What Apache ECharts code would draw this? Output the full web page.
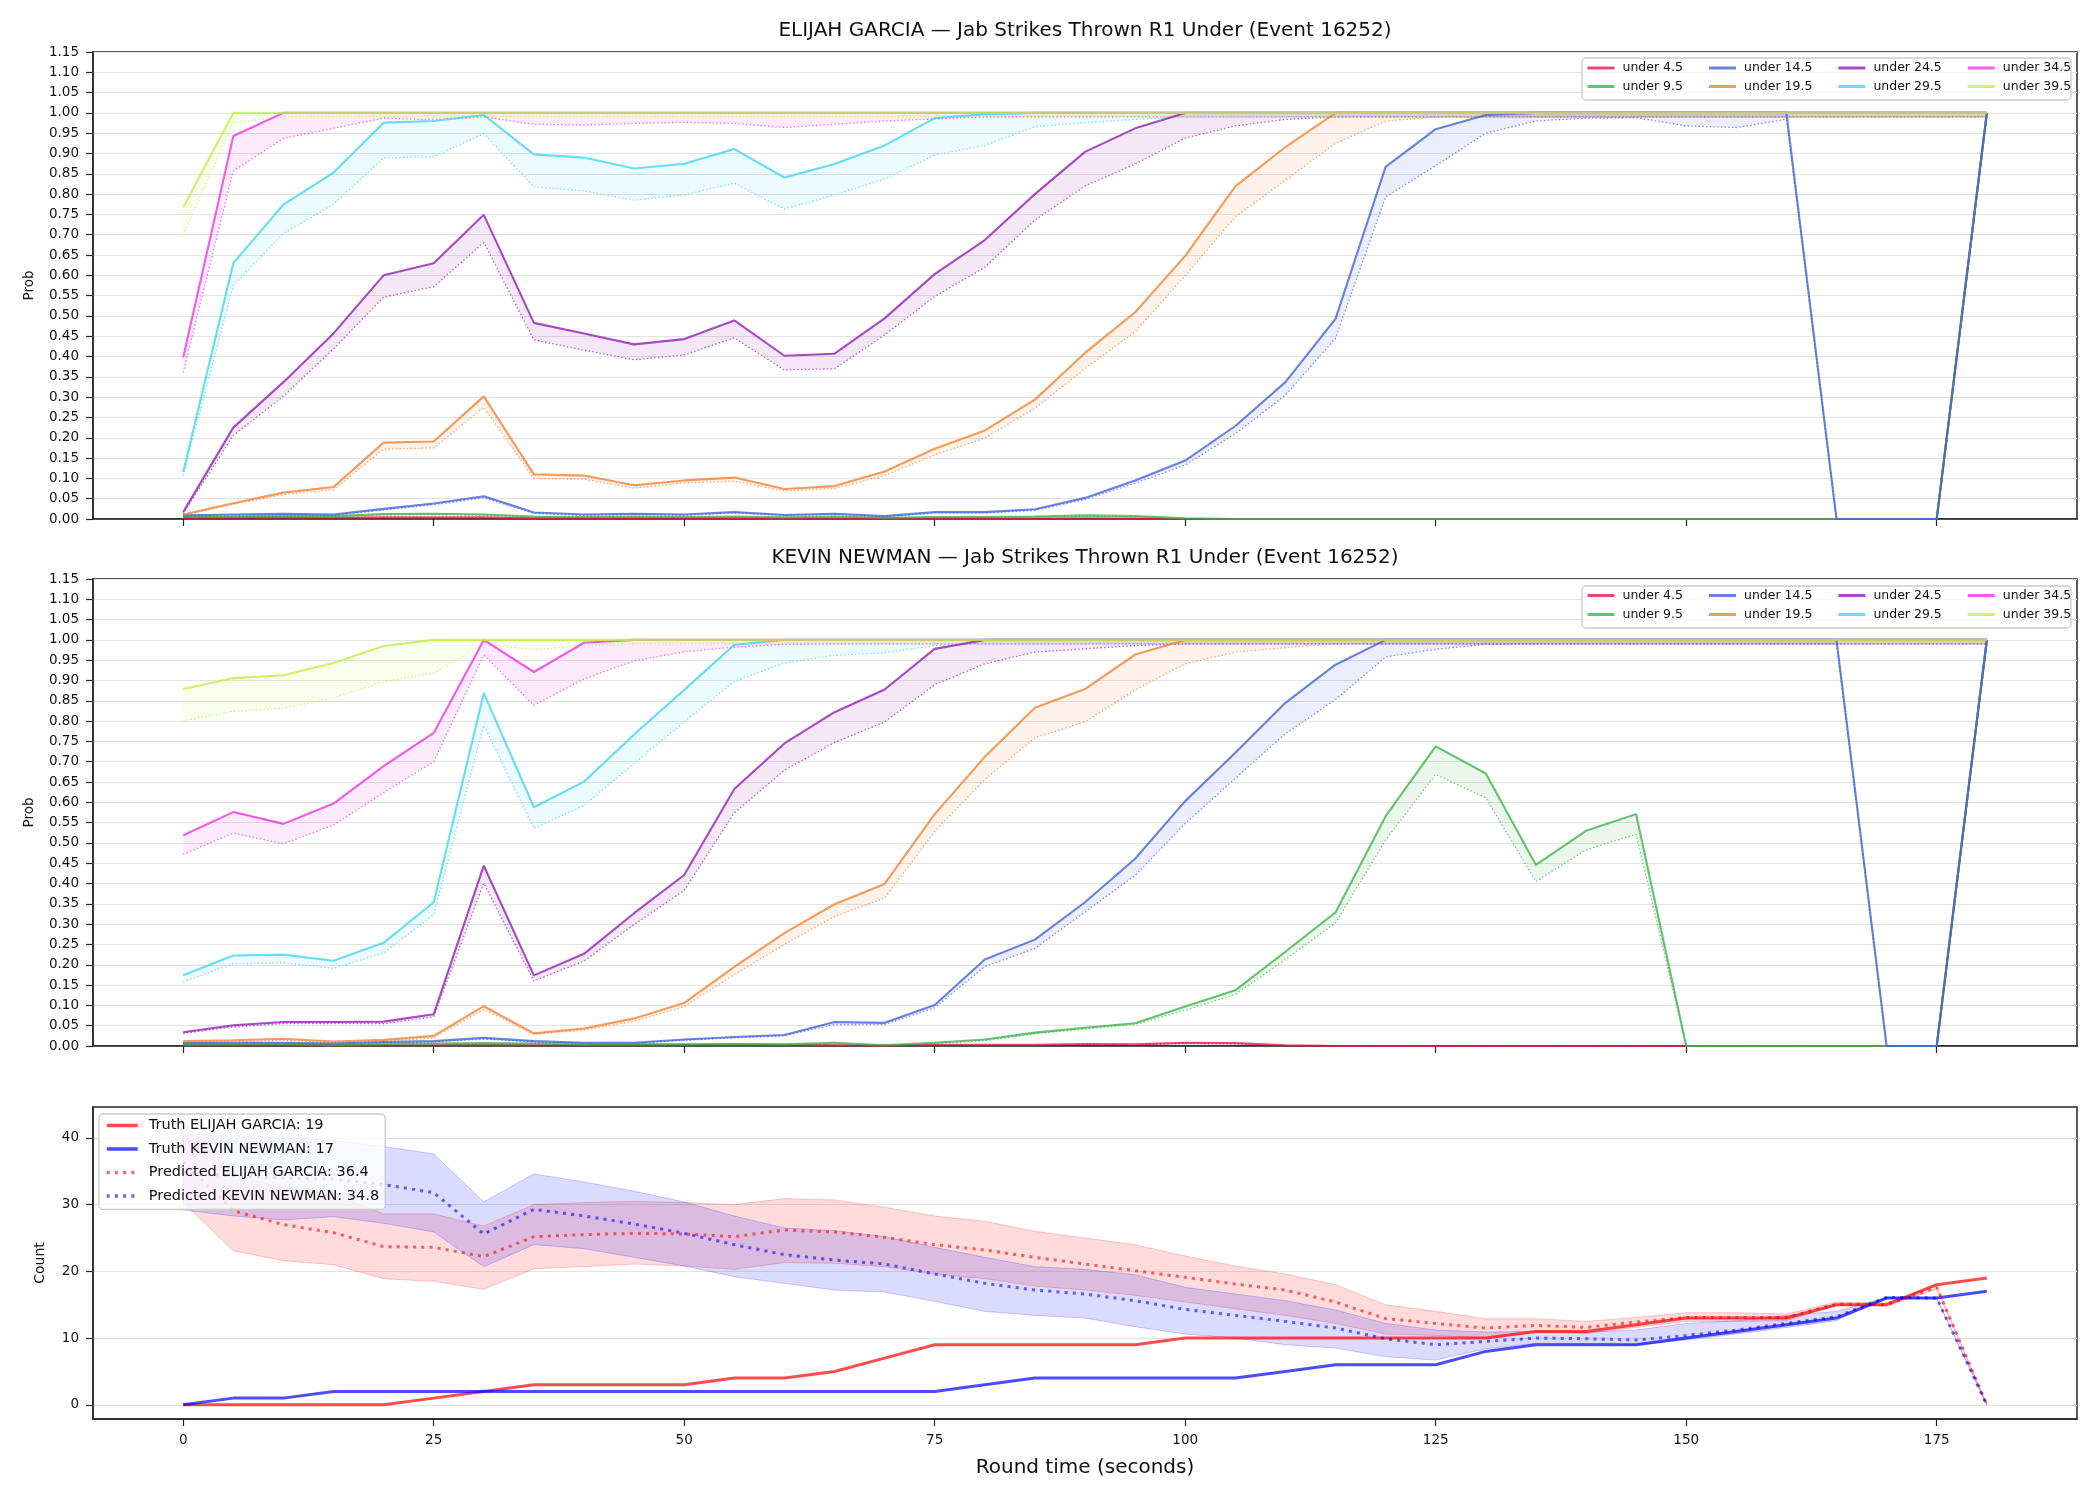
<!DOCTYPE html>
<html>
<head>
<meta charset="utf-8">
<title>Jab Strikes Thrown R1 Under (Event 16252)</title>
<script src="https://cdn.jsdelivr.net/npm/echarts@6/dist/echarts.min.js"></script>
<style>
  html, body { margin: 0; padding: 0; background: #fff; }
  #chart { width: 2100px; height: 1500px; }
</style>
</head>
<body>
<div id="chart"></div>
<script>
// x: round time in seconds
const seconds = [0, 5, 10, 15, 20, 25, 30, 35, 40, 45, 50, 55, 60, 65, 70, 75, 80, 85, 90, 95, 100, 105, 110, 115, 120, 125, 130, 135, 140, 145, 150, 155, 160, 165, 170, 175, 180]
const secondTicks = [0, 25, 50, 75, 100, 125, 150, 175]
const countTicks = [0, 10, 20, 30, 40]

const fighterA = 'ELIJAH GARCIA'
const fighterB = 'KEVIN NEWMAN'
const thresholds = ['under 4.5', 'under 9.5', 'under 14.5', 'under 19.5', 'under 24.5', 'under 29.5', 'under 34.5', 'under 39.5']
const lineColors = ['#e6194b', '#3cb44b', '#4363d8', '#f58231', '#911eb4', '#42d4f4', '#f032e6', '#bfef45']

// ELIJAH GARCIA: probability (solid) and lower line (dotted)
const garcia45 = [0.003, 0.003, 0.004, 0.003, 0.004, 0.004, 0.004, 0.002, 0.002, 0.002, 0.002, 0.002, 0.001, 0.001, 0.001, 0.001, 0.001, 0.001, 0.002, 0.001, 0, 0, 0, 0, 0, 0, 0, 0, 0, 0, 0, 0, 0, 0, 0, 0, 1]
const garcia45Low = [0.002, 0.002, 0.003, 0.002, 0.003, 0.003, 0.003, 0.001, 0.001, 0.001, 0.001, 0.001, 0.001, 0.001, 0.001, 0.001, 0.001, 0.001, 0.001, 0.001, 0, 0, 0, 0, 0, 0, 0, 0, 0, 0, 0, 0, 0, 0, 0, 0, 0.99]
const garcia95 = [0.005, 0.006, 0.008, 0.007, 0.012, 0.013, 0.011, 0.006, 0.005, 0.006, 0.005, 0.006, 0.004, 0.006, 0.003, 0.005, 0.005, 0.006, 0.009, 0.007, 0.002, 0, 0, 0, 0, 0, 0, 0, 0, 0, 0, 0, 0, 0, 0, 0, 1]
const garcia95Low = [0.004, 0.005, 0.007, 0.006, 0.010, 0.011, 0.009, 0.005, 0.004, 0.005, 0.004, 0.005, 0.003, 0.005, 0.002, 0.004, 0.004, 0.005, 0.007, 0.006, 0.001, 0, 0, 0, 0, 0, 0, 0, 0, 0, 0, 0, 0, 0, 0, 0, 0.99]
const garcia145 = [0.009, 0.011, 0.013, 0.011, 0.025, 0.038, 0.056, 0.016, 0.011, 0.013, 0.011, 0.017, 0.010, 0.013, 0.007, 0.017, 0.017, 0.024, 0.052, 0.095, 0.144, 0.229, 0.337, 0.493, 0.867, 0.960, 0.995, 1, 1, 1, 1, 1, 1, 0, 0, 0, 1]
const garcia145Low = [0.007, 0.009, 0.011, 0.009, 0.022, 0.035, 0.052, 0.014, 0.009, 0.011, 0.009, 0.015, 0.009, 0.011, 0.006, 0.015, 0.015, 0.021, 0.048, 0.088, 0.133, 0.210, 0.305, 0.445, 0.793, 0.870, 0.950, 0.980, 0.987, 0.988, 0.968, 0.964, 0.984, 0, 0, 0, 0.99]
const garcia195 = [0.011, 0.039, 0.065, 0.079, 0.188, 0.191, 0.302, 0.110, 0.107, 0.083, 0.095, 0.102, 0.074, 0.081, 0.117, 0.173, 0.218, 0.294, 0.409, 0.509, 0.648, 0.819, 0.916, 1, 1, 1, 1, 1, 1, 1, 1, 1, 1, 1, 1, 1, 1]
const garcia195Low = [0.009, 0.036, 0.060, 0.072, 0.172, 0.175, 0.275, 0.100, 0.098, 0.076, 0.089, 0.093, 0.069, 0.075, 0.107, 0.158, 0.199, 0.273, 0.370, 0.461, 0.599, 0.744, 0.834, 0.925, 0.980, 0.99, 0.99, 0.99, 0.99, 0.99, 0.99, 0.99, 0.99, 0.99, 0.99, 0.99, 0.99]
const garcia245 = [0.017, 0.225, 0.337, 0.457, 0.600, 0.630, 0.749, 0.483, 0.457, 0.430, 0.443, 0.489, 0.402, 0.407, 0.494, 0.603, 0.687, 0.800, 0.904, 0.962, 1, 1, 1, 1, 1, 1, 1, 1, 1, 1, 1, 1, 1, 1, 1, 1, 1]
const garcia245Low = [0.013, 0.206, 0.302, 0.419, 0.546, 0.572, 0.681, 0.441, 0.416, 0.392, 0.404, 0.446, 0.367, 0.370, 0.453, 0.548, 0.620, 0.736, 0.820, 0.874, 0.938, 0.968, 0.984, 0.99, 0.99, 0.99, 0.99, 0.99, 0.99, 0.99, 0.99, 0.99, 0.99, 0.99, 0.99, 0.99, 0.99]
const garcia295 = [0.116, 0.630, 0.774, 0.853, 0.976, 0.980, 0.995, 0.898, 0.890, 0.863, 0.875, 0.911, 0.841, 0.874, 0.920, 0.987, 0.997, 1, 1, 1, 1, 1, 1, 1, 1, 1, 1, 1, 1, 1, 1, 1, 1, 1, 1, 1, 1]
const garcia295Low = [0.107, 0.575, 0.703, 0.775, 0.889, 0.892, 0.949, 0.818, 0.808, 0.785, 0.798, 0.827, 0.763, 0.798, 0.837, 0.896, 0.920, 0.966, 0.976, 0.984, 0.99, 0.99, 0.99, 0.99, 0.99, 0.99, 0.99, 0.99, 0.99, 0.99, 0.99, 0.99, 0.99, 0.99, 0.99, 0.99, 0.99]
const garcia345 = [0.398, 0.943, 1, 1, 1, 1, 1, 1, 1, 1, 1, 1, 1, 1, 1, 1, 1, 1, 1, 1, 1, 1, 1, 1, 1, 1, 1, 1, 1, 1, 1, 1, 1, 1, 1, 1, 1]
const garcia345Low = [0.361, 0.857, 0.937, 0.962, 0.987, 0.983, 0.990, 0.972, 0.970, 0.974, 0.977, 0.974, 0.964, 0.972, 0.980, 0.985, 0.99, 0.99, 0.99, 0.99, 0.99, 0.99, 0.99, 0.99, 0.99, 0.99, 0.99, 0.99, 0.99, 0.99, 0.99, 0.99, 0.99, 0.99, 0.99, 0.99, 0.99]
const garcia395 = [0.767, 1, 1, 1, 1, 1, 1, 1, 1, 1, 1, 1, 1, 1, 1, 1, 1, 1, 1, 1, 1, 1, 1, 1, 1, 1, 1, 1, 1, 1, 1, 1, 1, 1, 1, 1, 1]
const garcia395Low = [0.700, 0.976, 0.99, 0.99, 0.99, 0.99, 0.99, 0.99, 0.99, 0.99, 0.99, 0.99, 0.99, 0.99, 0.99, 0.99, 0.99, 0.99, 0.99, 0.99, 0.99, 0.99, 0.99, 0.99, 0.99, 0.99, 0.99, 0.99, 0.99, 0.99, 0.99, 0.99, 0.99, 0.99, 0.99, 0.99, 0.99]

// KEVIN NEWMAN: probability (solid) and lower line (dotted)
const newman45 = [0.002, 0.002, 0.002, 0.002, 0.002, 0.002, 0.003, 0.002, 0.002, 0.002, 0.003, 0.003, 0.003, 0.002, 0.002, 0.003, 0.003, 0.003, 0.005, 0.004, 0.008, 0.007, 0.002, 0, 0, 0, 0, 0, 0, 0, 0, 0, 0, 0, 0, 0, 1]
const newman45Low = [0.001, 0.001, 0.001, 0.001, 0.001, 0.001, 0.002, 0.001, 0.001, 0.001, 0.002, 0.002, 0.002, 0.001, 0.001, 0.002, 0.002, 0.002, 0.004, 0.003, 0.006, 0.005, 0.001, 0, 0, 0, 0, 0, 0, 0, 0, 0, 0, 0, 0, 0, 0.99]
const newman95 = [0.004, 0.005, 0.005, 0.003, 0.005, 0.006, 0.007, 0.006, 0.004, 0.005, 0.004, 0.005, 0.004, 0.008, 0.002, 0.008, 0.016, 0.033, 0.045, 0.056, 0.097, 0.137, 0.232, 0.329, 0.566, 0.738, 0.671, 0.446, 0.530, 0.571, 0, 0, 0, 0, 0, 0, 1]
const newman95Low = [0.003, 0.004, 0.004, 0.002, 0.004, 0.005, 0.006, 0.005, 0.003, 0.004, 0.003, 0.004, 0.003, 0.006, 0.001, 0.006, 0.013, 0.030, 0.042, 0.053, 0.088, 0.127, 0.213, 0.303, 0.507, 0.669, 0.611, 0.405, 0.483, 0.521, 0, 0, 0, 0, 0, 0, 0.99]
const newman145 = [0.007, 0.008, 0.008, 0.006, 0.010, 0.012, 0.020, 0.012, 0.008, 0.008, 0.016, 0.022, 0.027, 0.059, 0.057, 0.101, 0.213, 0.262, 0.354, 0.461, 0.603, 0.722, 0.845, 0.939, 1, 1, 1, 1, 1, 1, 1, 1, 1, 1, 0, 0, 1]
const newman145Low = [0.005, 0.006, 0.006, 0.004, 0.008, 0.010, 0.017, 0.010, 0.006, 0.006, 0.014, 0.020, 0.025, 0.053, 0.053, 0.094, 0.196, 0.240, 0.330, 0.420, 0.548, 0.659, 0.769, 0.853, 0.958, 0.977, 0.989, 0.99, 0.99, 0.99, 0.99, 0.99, 0.99, 0.99, 0, 0, 0.99]
const newman195 = [0.012, 0.014, 0.018, 0.011, 0.015, 0.025, 0.098, 0.031, 0.043, 0.068, 0.106, 0.195, 0.278, 0.349, 0.399, 0.571, 0.712, 0.833, 0.879, 0.964, 1, 1, 1, 1, 1, 1, 1, 1, 1, 1, 1, 1, 1, 1, 1, 1, 1]
const newman195Low = [0.008, 0.010, 0.014, 0.008, 0.011, 0.020, 0.090, 0.029, 0.039, 0.061, 0.097, 0.176, 0.250, 0.319, 0.364, 0.528, 0.656, 0.759, 0.798, 0.877, 0.941, 0.970, 0.981, 0.99, 0.99, 0.99, 0.99, 0.99, 0.99, 0.99, 0.99, 0.99, 0.99, 0.99, 0.99, 0.99, 0.99]
const newman245 = [0.034, 0.051, 0.059, 0.059, 0.060, 0.078, 0.444, 0.174, 0.227, 0.327, 0.421, 0.633, 0.745, 0.822, 0.878, 0.978, 1, 1, 1, 1, 1, 1, 1, 1, 1, 1, 1, 1, 1, 1, 1, 1, 1, 1, 1, 1, 1]
const newman245Low = [0.031, 0.047, 0.055, 0.055, 0.055, 0.072, 0.401, 0.160, 0.209, 0.299, 0.383, 0.574, 0.679, 0.747, 0.798, 0.890, 0.941, 0.970, 0.978, 0.986, 0.99, 0.99, 0.99, 0.99, 0.99, 0.99, 0.99, 0.99, 0.99, 0.99, 0.99, 0.99, 0.99, 0.99, 0.99, 0.99, 0.99]
const newman295 = [0.174, 0.223, 0.225, 0.210, 0.254, 0.354, 0.869, 0.588, 0.651, 0.767, 0.877, 0.988, 1, 1, 1, 1, 1, 1, 1, 1, 1, 1, 1, 1, 1, 1, 1, 1, 1, 1, 1, 1, 1, 1, 1, 1, 1]
const newman295Low = [0.158, 0.202, 0.205, 0.191, 0.229, 0.323, 0.790, 0.536, 0.592, 0.696, 0.798, 0.898, 0.943, 0.962, 0.968, 0.986, 0.99, 0.99, 0.99, 0.99, 0.99, 0.99, 0.99, 0.99, 0.99, 0.99, 0.99, 0.99, 0.99, 0.99, 0.99, 0.99, 0.99, 0.99, 0.99, 0.99, 0.99]
const newman345 = [0.519, 0.576, 0.547, 0.597, 0.689, 0.771, 1, 0.921, 0.993, 1, 1, 1, 1, 1, 1, 1, 1, 1, 1, 1, 1, 1, 1, 1, 1, 1, 1, 1, 1, 1, 1, 1, 1, 1, 1, 1, 1]
const newman345Low = [0.472, 0.524, 0.498, 0.544, 0.624, 0.700, 0.963, 0.839, 0.904, 0.948, 0.971, 0.982, 0.989, 0.99, 0.99, 0.99, 0.99, 0.99, 0.99, 0.99, 0.99, 0.99, 0.99, 0.99, 0.99, 0.99, 0.99, 0.99, 0.99, 0.99, 0.99, 0.99, 0.99, 0.99, 0.99, 0.99, 0.99]
const newman395 = [0.879, 0.906, 0.913, 0.943, 0.985, 1, 1, 1, 1, 1, 1, 1, 1, 1, 1, 1, 1, 1, 1, 1, 1, 1, 1, 1, 1, 1, 1, 1, 1, 1, 1, 1, 1, 1, 1, 1, 1]
const newman395Low = [0.800, 0.824, 0.831, 0.858, 0.896, 0.918, 0.989, 0.976, 0.986, 0.99, 0.99, 0.99, 0.99, 0.99, 0.99, 0.99, 0.99, 0.99, 0.99, 0.99, 0.99, 0.99, 0.99, 0.99, 0.99, 0.99, 0.99, 0.99, 0.99, 0.99, 0.99, 0.99, 0.99, 0.99, 0.99, 0.99, 0.99]

// counts: truth, predicted and band
const garciaTruth = [0, 0, 0, 0, 0, 1, 2, 3, 3, 3, 3, 4, 4, 5, 7, 9, 9, 9, 9, 9, 10, 10, 10, 10, 10, 10, 10, 11, 11, 12, 13, 13, 13, 15, 15, 18, 19]
const newmanTruth = [0, 1, 1, 2, 2, 2, 2, 2, 2, 2, 2, 2, 2, 2, 2, 2, 3, 4, 4, 4, 4, 4, 5, 6, 6, 6, 8, 9, 9, 9, 10, 11, 12, 13, 16, 16, 17]
const garciaPred = [36.4, 29.1, 27.0, 25.8, 23.7, 23.6, 22.2, 25.2, 25.5, 25.7, 25.6, 25.2, 26.2, 25.9, 25.1, 24.0, 23.2, 22.1, 21.1, 20.1, 19.1, 18.1, 17.2, 15.4, 12.9, 12.2, 11.5, 11.9, 11.6, 12.4, 13.1, 13.1, 13.1, 15.1, 15.0, 17.6, 0]
const newmanPred = [34.8, 34.3, 34.0, 33.8, 33.0, 31.8, 25.6, 29.3, 28.3, 27.1, 25.7, 24.0, 22.5, 21.7, 21.1, 19.6, 18.2, 17.2, 16.6, 15.6, 14.3, 13.4, 12.5, 11.5, 9.9, 9.0, 9.5, 10.0, 9.9, 9.7, 10.4, 11.2, 12.2, 13.2, 16.1, 16.0, 0]
const garciaBandHigh = [42.5, 34.5, 32.5, 31.5, 28.6, 28.6, 26.8, 30.0, 30.3, 30.5, 30.3, 30.0, 30.9, 30.7, 29.6, 28.3, 27.5, 26.0, 25.0, 24.0, 22.3, 20.8, 19.6, 18.0, 15.0, 14.0, 12.9, 12.9, 12.5, 13.1, 13.8, 13.8, 13.6, 15.4, 15.3, 17.9, 0]
const garciaBandLow = [30.3, 23.1, 21.6, 21.0, 18.9, 18.5, 17.3, 20.4, 20.7, 21.1, 20.8, 20.3, 21.3, 21.2, 20.7, 19.6, 18.9, 17.8, 17.2, 16.4, 15.4, 14.4, 13.4, 12.2, 10.6, 10.4, 10.0, 10.9, 10.7, 11.6, 12.5, 12.5, 12.6, 14.9, 14.8, 17.3, 0]
const newmanBandHigh = [40.6, 40.3, 40.1, 39.6, 38.7, 37.6, 30.4, 34.6, 33.4, 32.0, 30.4, 28.3, 26.5, 26.1, 25.2, 23.6, 22.1, 20.7, 20.3, 19.5, 17.6, 16.6, 15.6, 14.2, 12.2, 11.2, 10.9, 11.0, 10.9, 11.2, 12.2, 12.6, 13.4, 14.0, 16.1, 16.0, 0]
const newmanBandLow = [29.2, 28.3, 27.7, 28.2, 27.2, 25.9, 20.7, 24.0, 23.4, 22.1, 20.8, 19.2, 18.2, 17.2, 16.9, 15.5, 14.0, 13.4, 13.0, 11.7, 10.6, 10.0, 9.0, 8.5, 7.2, 6.7, 8.4, 9.2, 9.2, 9.0, 9.7, 10.6, 11.6, 12.6, 16.0, 15.9, 0]

const fontFamily = 'DejaVu Sans'
const ink = '#111111'
const axisInk = '#262626'
const gridInk = '#e3e3e3'

const probPanels = [
  {
    solid: [garcia45, garcia95, garcia145, garcia195, garcia245, garcia295, garcia345, garcia395],
    low: [garcia45Low, garcia95Low, garcia145Low, garcia195Low, garcia245Low, garcia295Low, garcia345Low, garcia395Low]
  },
  {
    solid: [newman45, newman95, newman145, newman195, newman245, newman295, newman345, newman395],
    low: [newman45Low, newman95Low, newman145Low, newman195Low, newman245Low, newman295Low, newman345Low, newman395Low]
  }
]

const pairs = vals => seconds.map((s, i) => [s, vals[i]])

const rgba = (hex, a) => {
  const n = parseInt(hex.slice(1), 16)
  return 'rgba(' + (n >> 16) + ',' + ((n >> 8) & 255) + ',' + (n & 255) + ',' + a + ')'
}

// filled band between two lines, drawn as one polygon through the axis scales
const bandSeries = (name, axis, lo, hi, color, fillAlpha, edgeAlpha) => ({
  name, type: 'custom', xAxisIndex: axis, yAxisIndex: axis, z: 1, silent: true,
  data: seconds.map((s, i) => [s, lo[i], hi[i]]),
  encode: { x: 0, y: [1, 2] },
  renderItem: (params, api) => {
    if (params.dataIndex !== 0) return null
    const upper = seconds.map((s, i) => api.coord([s, hi[i]]))
    const lower = seconds.map((s, i) => api.coord([s, lo[i]])).reverse()
    return {
      type: 'polygon',
      shape: { points: upper.concat(lower) },
      style: {
        fill: rgba(color, fillAlpha),
        stroke: edgeAlpha ? rgba(color, edgeAlpha) : null,
        lineWidth: edgeAlpha ? 1 : 0
      }
    }
  }
})

const series = []

probPanels.forEach((panel, p) => {
  thresholds.forEach((name, k) => {
    const color = lineColors[k]
    series.push(bandSeries(name + ' band ' + p, p, panel.low[k], panel.solid[k], color, 0.1, 0))
    series.push({
      name,
      type: 'line', xAxisIndex: p, yAxisIndex: p,
      data: pairs(panel.solid[k]),
      symbol: 'none', z: 3, silent: true,
      itemStyle: { color },
      lineStyle: { color, width: 2.1, opacity: 0.8 }
    })
    series.push({
      name: name + ' lower ' + p,
      type: 'line', xAxisIndex: p, yAxisIndex: p,
      data: pairs(panel.low[k]),
      symbol: 'none', z: 2, silent: true,
      itemStyle: { color },
      lineStyle: { color, width: 1.3, type: [1.4, 2.3], opacity: 0.7 }
    })
  })
})

const truthGarciaName = 'Truth ' + fighterA + ': ' + garciaTruth[garciaTruth.length - 1]
const truthNewmanName = 'Truth ' + fighterB + ': ' + newmanTruth[newmanTruth.length - 1]
const predGarciaName = 'Predicted ' + fighterA + ': ' + garciaPred[0]
const predNewmanName = 'Predicted ' + fighterB + ': ' + newmanPred[0]

series.push(bandSeries('garcia band', 2, garciaBandLow, garciaBandHigh, '#ff0000', 0.14, 0.2))
series.push(bandSeries('newman band', 2, newmanBandLow, newmanBandHigh, '#0000ff', 0.14, 0.2))
series.push(
  {
    name: truthGarciaName, type: 'line', xAxisIndex: 2, yAxisIndex: 2,
    data: pairs(garciaTruth), symbol: 'none', z: 3, silent: true,
    itemStyle: { color: '#ff0000' },
    lineStyle: { color: '#ff0000', width: 3, opacity: 0.7 }
  },
  {
    name: truthNewmanName, type: 'line', xAxisIndex: 2, yAxisIndex: 2,
    data: pairs(newmanTruth), symbol: 'none', z: 3, silent: true,
    itemStyle: { color: '#0000ff' },
    lineStyle: { color: '#0000ff', width: 3, opacity: 0.7 }
  },
  {
    name: predGarciaName, type: 'line', xAxisIndex: 2, yAxisIndex: 2,
    data: pairs(garciaPred), symbol: 'none', z: 3, silent: true,
    itemStyle: { color: '#ff0000' },
    lineStyle: { color: '#ff0000', width: 3, type: [3, 5.2], opacity: 0.6 }
  },
  {
    name: predNewmanName, type: 'line', xAxisIndex: 2, yAxisIndex: 2,
    data: pairs(newmanPred), symbol: 'none', z: 3, silent: true,
    itemStyle: { color: '#0000ff' },
    lineStyle: { color: '#0000ff', width: 3, type: [3, 5.2], opacity: 0.6 }
  }
)

const grids = [
  { left: 93, top: 52, width: 1984, height: 467 },
  { left: 93, top: 579, width: 1984, height: 467 },
  { left: 93, top: 1107, width: 1984, height: 312 }
].map(g => ({ ...g, show: true, borderColor: axisInk, borderWidth: 1.5, backgroundColor: 'transparent' }))

const tickStyle = { color: axisInk, width: 1.2 }

const xAxes = [0, 1, 2].map(i => ({
  type: 'value', gridIndex: i, min: -9, max: 189,
  name: i === 2 ? 'Round time (seconds)' : '',
  nameLocation: 'middle', nameGap: 39,
  nameTextStyle: { fontSize: 20, color: ink },
  axisLine: { show: true, onZero: false, lineStyle: { color: axisInk, width: 1.5 } },
  axisTick: { show: true, customValues: secondTicks, length: 7, lineStyle: tickStyle },
  axisLabel: { show: i === 2, customValues: secondTicks, margin: 14, fontSize: 13.5, color: ink },
  splitLine: { show: false }
}))

const probAxis = gridIndex => ({
  type: 'value', gridIndex, min: 0, max: 1.15, interval: 0.05,
  name: 'Prob', nameLocation: 'middle', nameGap: 57,
  nameTextStyle: { fontSize: 13.5, color: ink },
  axisLine: { show: true, onZero: false, lineStyle: { color: axisInk, width: 1.5 } },
  axisTick: { show: true, length: 7, lineStyle: tickStyle },
  axisLabel: { margin: 14, fontSize: 13.5, color: ink, formatter: v => v.toFixed(2) },
  splitLine: { show: true, lineStyle: { color: gridInk, width: 1 } }
})

const countAxis = {
  type: 'value', gridIndex: 2, min: -2.13, max: 44.63, splitNumber: 10,
  name: 'Count', nameLocation: 'middle', nameGap: 46,
  nameTextStyle: { fontSize: 14, color: ink },
  axisLine: { show: true, onZero: false, lineStyle: { color: axisInk, width: 1.5 } },
  axisTick: { show: true, customValues: countTicks, length: 7, lineStyle: tickStyle },
  axisLabel: { customValues: countTicks, margin: 14, fontSize: 13.5, color: ink },
  splitLine: { show: true, lineStyle: { color: gridInk, width: 1 } }
}

// legend icons: keep the line, hide the marker ECharts adds to line-series icons
const probLegend = (names, top) => ({
  data: names, orient: 'horizontal', left: 1586, top, padding: 0,
  itemWidth: 27, itemHeight: 14, itemGap: 24.5, z: 12,
  itemStyle: { opacity: 0 },
  lineStyle: { width: 3 },
  textStyle: { fontSize: 12.5, color: ink, padding: [0, 0, 0, 3] }
})

const rowA = [thresholds[0], thresholds[2], thresholds[4], thresholds[6]]
const rowB = [thresholds[1], thresholds[3], thresholds[5], thresholds[7]]

const legendFrame = (y, h) => ({
  type: 'rect', z: 10, silent: true,
  shape: { x: 1582, y, width: 489, height: h, r: 4 },
  style: { fill: 'rgba(255,255,255,0.8)', stroke: '#cccccc', lineWidth: 1.3 }
})

const panelTitle = (text, y) => ({
  type: 'text', x: 1085, y, z: 10, silent: true,
  style: { text, fill: ink, fontSize: 20, fontFamily, align: 'center', verticalAlign: 'middle' }
})

const option = {
  animation: false,
  backgroundColor: '#ffffff',
  textStyle: { fontFamily },
  grid: grids,
  xAxis: xAxes,
  yAxis: [probAxis(0), probAxis(1), countAxis],
  legend: [
    probLegend(rowA, 61.5),
    probLegend(rowB, 80),
    probLegend(rowA, 589),
    probLegend(rowB, 608),
    {
      data: [truthGarciaName, truthNewmanName, predGarciaName, predNewmanName],
      orient: 'vertical', left: 99, top: 1114, padding: [4, 6, 6, 6],
      itemWidth: 31, itemHeight: 16, itemGap: 8.5, z: 12,
      backgroundColor: 'rgba(255,255,255,0.8)', borderColor: '#cccccc', borderWidth: 1.3, borderRadius: 4,
      itemStyle: { opacity: 0 },
      lineStyle: { width: 3.5 },
      textStyle: { fontSize: 14.5, color: ink, padding: [0, 0, 0, 6] }
    }
  ],
  graphic: [
    panelTitle(fighterA + ' \u2014 Jab Strikes Thrown R1 Under (Event 16252)', 31),
    panelTitle(fighterB + ' \u2014 Jab Strikes Thrown R1 Under (Event 16252)', 558),
    legendFrame(58, 42),
    legendFrame(586, 42)
  ],
  series
}

const chart = echarts.init(document.getElementById('chart'), null, { renderer: 'canvas' })
chart.setOption(option)
</script>
</body>
</html>
